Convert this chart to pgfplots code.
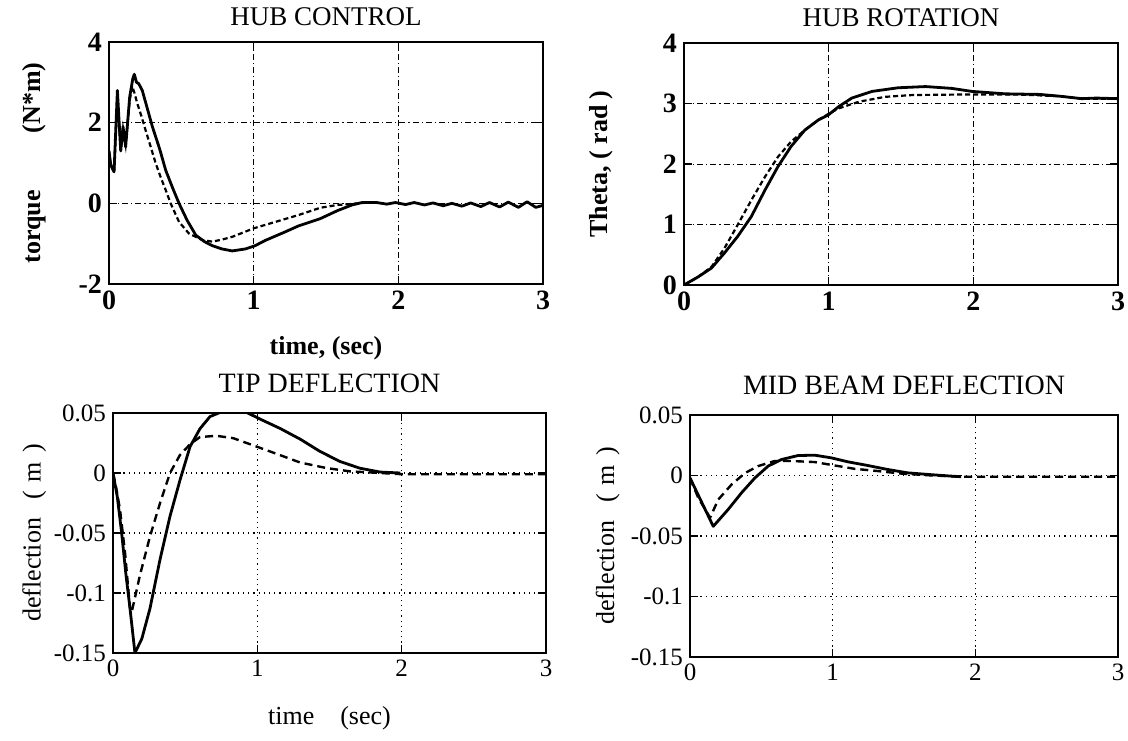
\documentclass[border=0pt]{standalone}
\usepackage{fontspec}
\setmainfont{Liberation Serif}
\usepackage{pgfplots}
\pgfplotsset{compat=1.18}
\pgfplotsset{
  base/.style={
    scale only axis, anchor=south west,
    xmin=0, xmax=3, xtick={0,1,2,3}, xticklabels={0,1,2,3},
    scaled y ticks=false,
    tick align=inside, major tick length=4pt,
    axis line style={line width=1pt},
    every tick/.style={black, line width=0.8pt},
    grid=major,
    /pgf/number format/assume math mode=true,
    clip=true,
  },
  toprow/.style={
    base,
    ymin=-2, ymax=4,
    tick label style={font=\fontsize{14}{16}\selectfont\bfseries},
    label style={font=\fontsize{13}{15}\selectfont\bfseries},
    title style={font=\fontsize{13.5}{15}\selectfont, anchor=center},
    major grid style={black, line width=0.45pt, dash pattern=on 3pt off 1.5pt on 0.6pt off 1.5pt},
  },
  botrow/.style={
    base,
    ymin=-0.15, ymax=0.05, ytick={-0.15,-0.1,-0.05,0,0.05},
    yticklabels={-0.15,-0.1,-0.05,0,0.05},
    tick label style={font=\fontsize{12.5}{14}\selectfont},
    label style={font=\fontsize{13}{15}\selectfont},
    title style={font=\fontsize{14}{16}\selectfont, anchor=center},
    major grid style={black, line width=0.6pt, dash pattern=on 0.6pt off 2pt},
  },
  sol/.style={black, line width=1.4pt, line join=round},
  dsh/.style={black, line width=1.2pt, dash pattern=on 4pt off 2.5pt},
  dshf/.style={black, line width=1.1pt, dash pattern=on 2.5pt off 1.5pt},
}
\begin{document}
\begin{tikzpicture}
\path[use as bounding box] (0pt,0pt) rectangle (564pt,370pt);

% HUB CONTROL
\begin{axis}[toprow, at={(54.5pt,228pt)}, width=217pt, height=121pt,
  ytick={-2,0,2,4}, yticklabels={-2,0,2,4},
  title={HUB CONTROL}, title style={at={(rel axis cs:0.5,1.055)}},
  ylabel={torque\hspace{2.2em}(N*m)},
  ylabel style={at={(rel axis cs:-0.1728,0.5)}, anchor=center, rotate=0},
  xlabel={time, (sec)},
  xlabel style={at={(rel axis cs:0.5,-0.2645)}, anchor=center}]
\addplot[sol] coordinates {(0,1.3)(0.012,0.95)(0.035,0.78)(0.058,2.8)(0.081,1.3)(0.097,1.9)(0.115,1.4)(0.143,2.64)(0.165,3.1)(0.175,3.2)(0.19,3.0)(0.205,2.97)(0.23,2.8)(0.30,1.9)(0.35,1.35)(0.392,0.82)(0.44,0.38)(0.484,0)(0.54,-0.42)(0.6,-0.79)(0.66,-0.95)(0.714,-1.05)(0.78,-1.13)(0.852,-1.18)(0.944,-1.13)(1.01,-1.05)(1.08,-0.92)(1.21,-0.72)(1.31,-0.56)(1.46,-0.38)(1.58,-0.18)(1.68,-0.04)(1.75,0.02)(1.85,0.02)(1.92,-0.02)(1.98,0.02)(2.05,-0.03)(2.11,0.02)(2.18,-0.04)(2.24,0.01)(2.31,-0.06)(2.37,0.0)(2.44,-0.07)(2.50,0.01)(2.57,-0.08)(2.63,0.02)(2.70,-0.09)(2.76,0.03)(2.83,-0.1)(2.89,0.04)(2.95,-0.1)(3.0,-0.05)};
\addplot[dshf] coordinates {(0,1.3)(0.012,0.95)(0.035,0.78)(0.058,2.7)(0.081,1.3)(0.097,1.85)(0.115,1.45)(0.143,2.55)(0.16,2.9)(0.175,2.75)(0.196,2.47)(0.225,2.15)(0.253,1.81)(0.29,1.38)(0.322,1.0)(0.36,0.62)(0.392,0.33)(0.426,0)(0.484,-0.46)(0.553,-0.75)(0.645,-0.91)(0.714,-0.95)(0.78,-0.9)(0.852,-0.83)(0.93,-0.72)(1.0,-0.62)(1.15,-0.46)(1.31,-0.29)(1.46,-0.11)(1.58,-0.04)(1.66,-0.02)(1.75,0.01)(1.85,0.02)};
\end{axis}

% HUB ROTATION
\begin{axis}[toprow, at={(342pt,227.5pt)}, width=217pt, height=121pt,
  ymin=0, ymax=4, ytick={0,1,2,3,4}, yticklabels={0,1,2,3,4},
  title={HUB ROTATION}, title style={at={(rel axis cs:0.5,1.055)}},
  ylabel={Theta, ( rad )},
  ylabel style={at={(rel axis cs:-0.191,0.5)}, anchor=center, rotate=0}]
\addplot[sol] coordinates {(0,0)(0.095,0.13)(0.19,0.28)(0.28,0.53)(0.37,0.80)(0.465,1.13)(0.56,1.57)(0.65,1.96)(0.74,2.29)(0.835,2.56)(0.93,2.73)(0.997,2.81)(1.07,2.95)(1.16,3.09)(1.3,3.20)(1.48,3.26)(1.67,3.28)(1.85,3.25)(1.99,3.20)(2.22,3.16)(2.46,3.15)(2.6,3.12)(2.75,3.08)(2.85,3.09)(3,3.08)};
\addplot[dshf] coordinates {(0,0)(0.095,0.13)(0.19,0.30)(0.28,0.61)(0.37,0.99)(0.465,1.40)(0.56,1.79)(0.65,2.12)(0.74,2.37)(0.835,2.56)(0.93,2.73)(1.0,2.83)(1.07,2.92)(1.21,3.03)(1.39,3.11)(1.58,3.14)(1.99,3.15)(2.3,3.15)(2.6,3.12)(2.75,3.08)(3,3.08)};
\end{axis}

% TIP DEFLECTION
\begin{axis}[botrow, at={(56.5pt,43.5pt)}, width=216.5pt, height=120pt,
  title={TIP DEFLECTION}, title style={at={(rel axis cs:0.5,1.075)}},
  ylabel={deflection\hspace{0.7em}(\hspace{0.35em}m\hspace{0.35em})},
  ylabel style={at={(rel axis cs:-0.182,0.5)}, anchor=center, rotate=0},
  xlabel={time\hspace{1em}(sec)},
  xlabel style={at={(rel axis cs:0.5,-0.271)}, anchor=center}]
\addplot[sol] coordinates {(0,0)(0.03,-0.02)(0.06,-0.05)(0.09,-0.085)(0.118,-0.113)(0.152,-0.15)(0.2,-0.138)(0.256,-0.113)(0.326,-0.072)(0.395,-0.036)(0.464,-0.006)(0.534,0.022)(0.603,0.037)(0.672,0.047)(0.742,0.0505)(0.926,0.0505)(1.018,0.045)(1.16,0.037)(1.30,0.028)(1.434,0.018)(1.573,0.0096)(1.71,0.004)(1.85,0.0008)(1.99,0)};
\addplot[dsh] coordinates {(0,0)(0.02,-0.011)(0.048,-0.030)(0.083,-0.066)(0.118,-0.113)(0.129,-0.116)(0.15,-0.105)(0.187,-0.085)(0.256,-0.053)(0.326,-0.025)(0.395,0)(0.464,0.015)(0.534,0.024)(0.603,0.030)(0.718,0.031)(0.834,0.029)(0.972,0.023)(1.11,0.017)(1.295,0.0088)(1.48,0.0041)(1.64,0.0014)(1.85,0)(2.0,-0.001)(3,-0.001)};
\end{axis}

% MID BEAM DEFLECTION
\begin{axis}[botrow, at={(345pt,41.5pt)}, width=214pt, height=121pt,
  title={MID BEAM DEFLECTION}, title style={at={(rel axis cs:0.5,1.074)}},
  ylabel={deflection\hspace{0.7em}(\hspace{0.35em}m\hspace{0.35em})},
  ylabel style={at={(rel axis cs:-0.192,0.5)}, anchor=center, rotate=0}]
\addplot[sol] coordinates {(0,-0.002)(0.163,-0.042)(0.268,-0.028)(0.361,-0.0143)(0.455,-0.002)(0.548,0.0078)(0.641,0.0132)(0.757,0.0165)(0.874,0.0168)(0.99,0.0146)(1.107,0.0113)(1.245,0.0083)(1.385,0.005)(1.525,0.0022)(1.666,0.0009)(1.83,-0.0005)(1.9,-0.001)};
\addplot[dsh] coordinates {(0,-0.002)(0.058,-0.0185)(0.117,-0.03)(0.14,-0.035)(0.198,-0.0199)(0.291,-0.0075)(0.385,0.002)(0.478,0.0078)(0.594,0.012)(0.711,0.012)(0.874,0.0111)(1.014,0.0083)(1.154,0.0055)(1.29,0.0040)(1.48,0.0016)(1.67,0.0002)(1.9,-0.001)(3,-0.001)};
\end{axis}
\end{tikzpicture}
\end{document}
